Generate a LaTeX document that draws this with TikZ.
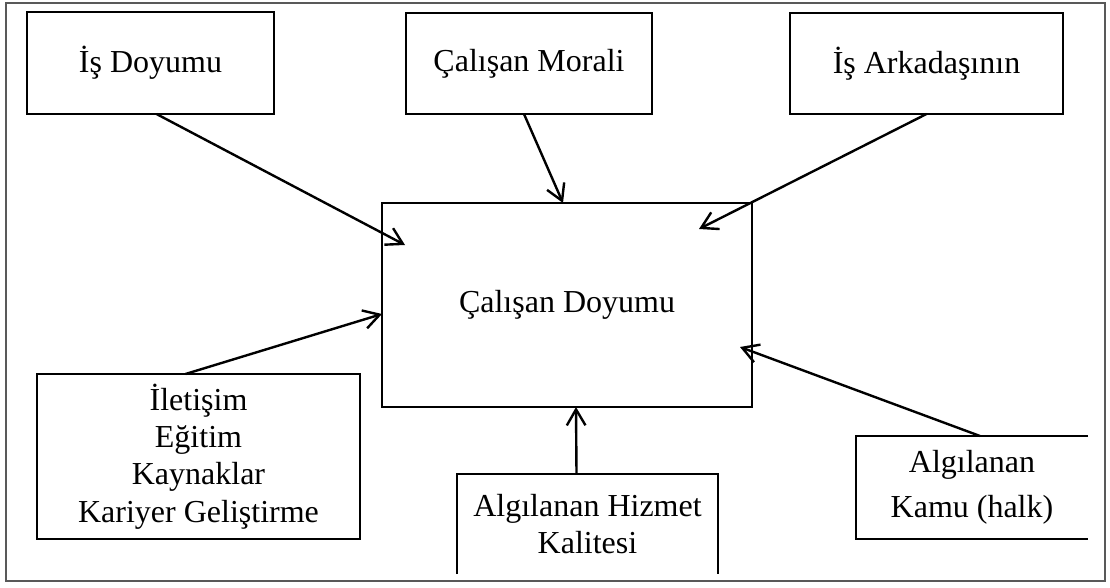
\documentclass[tikz,border=0pt]{standalone}
\usepackage{fontspec}
\setmainfont{Liberation Serif}
\usetikzlibrary{calc, arrows.meta}

\begin{document}
\begin{tikzpicture}[x=0.75pt, y=-0.75pt, ->, >={Straight Barb[length=12pt,width=14pt]}, line width=1.8pt]
\tikzstyle{box}=[draw=black, line width=1.6pt, outer sep=0pt, align=center, font=\fontsize{24}{28}\selectfont]
\tikzstyle{openbox}=[box, draw=none]
\useasboundingbox (0,0) rectangle (1110,588);
\draw[-, line width=0.9pt, draw=black!65] (6,3) rectangle (1105,581);
\node[box, minimum width=247*0.75pt, minimum height=102*0.75pt] (isd)  at (150.5,63)  {İş Doyumu};
\node[box, minimum width=246*0.75pt, minimum height=101*0.75pt] (cmor) at (529,63.5)  {Çalışan Morali};
\node[box, minimum width=273*0.75pt, minimum height=101*0.75pt] (ark)  at (926.5,63.5) {İş Arkadaşının};
\node[box, line width=2pt, minimum width=370*0.75pt, minimum height=204*0.75pt] (cd) at (567,305) {Çalışan Doyumu};
\node[box, minimum width=323*0.75pt, minimum height=165*0.75pt] (ilet) at (198.5,456.5) {İletişim\\Eğitim\\Kaynaklar\\Kariyer Geliştirme};
\node[openbox, minimum width=261*0.75pt, minimum height=100*0.75pt] (hiz) at (587.5,524) {Algılanan Hizmet\\Kalitesi};
\node[openbox, minimum width=232*0.75pt, minimum height=103*0.75pt] (kamu) at (972,487.5) {Algılanan\\[6pt]Kamu (halk)};
% open sides
\draw[-, line width=1.6pt] (hiz.south west) -- (hiz.north west) -- (hiz.north east) -- (hiz.south east);
\draw[-, line width=1.6pt] (kamu.north east) -- (kamu.north west) -- (kamu.south west) -- (kamu.south east);
% arrows
\draw[->] ($(isd.south)+(6,0)$)   -- ($(cd.north west)+(23,42)$);
\draw[->] ($(cmor.south)+(-5,0)$) -- ($(cd.north)+(-4,0)$);
\draw[->] (ark.south)              -- ($(cd.north east)+(-53,26)$);
\draw[->] ($(ilet.north)+(-13,0)$) -- ($(cd.west)+(0,9)$);
\draw[->] ($(kamu.north)+(8,0)$)   -- ($(cd.east)+(-12,42)$);
\draw[->] ($(hiz.north)+(-11,0)$)  -- ($(cd.south)+(9,0)$);
\end{tikzpicture}
\end{document}
